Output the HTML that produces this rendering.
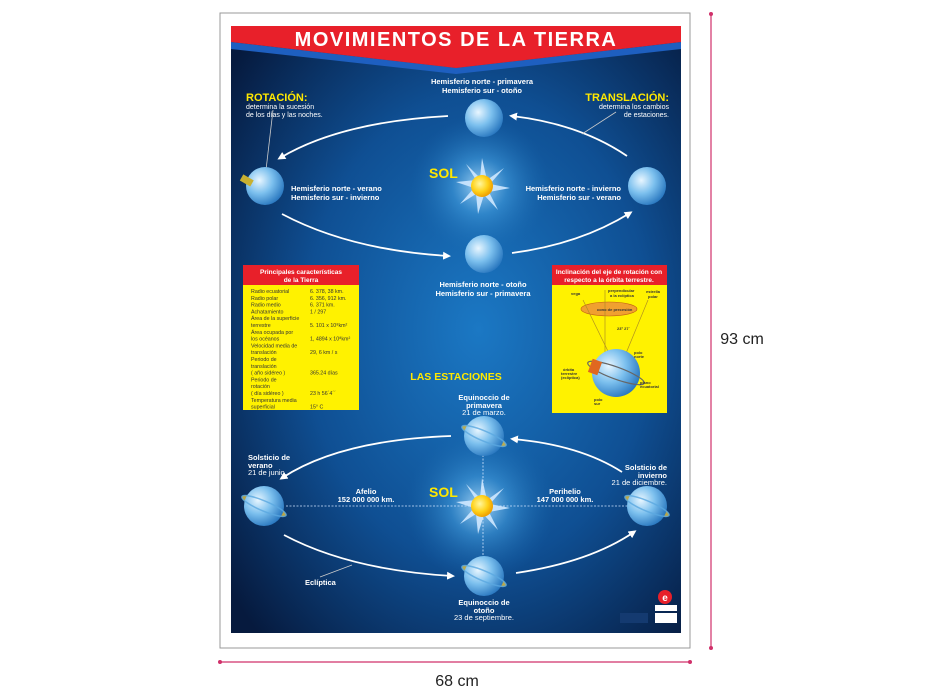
<!DOCTYPE html>
<html><head><meta charset="utf-8"><style>
html,body{margin:0;padding:0;background:#fff;}
svg{display:block;font-family:"Liberation Sans",Arial,sans-serif;}
</style></head><body>
<svg width="933" height="700" viewBox="0 0 933 700" xmlns="http://www.w3.org/2000/svg">
<defs>
<radialGradient id="bg" cx="0.55" cy="0.5" r="0.7">
<stop offset="0" stop-color="#1b78c4"/><stop offset="0.55" stop-color="#0f4f93"/><stop offset="1" stop-color="#061a3e"/>
</radialGradient>
<radialGradient id="glow" cx="0.5" cy="0.5" r="0.5">
<stop offset="0" stop-color="#bfe6ff" stop-opacity="0.9"/><stop offset="0.4" stop-color="#4aa8e8" stop-opacity="0.5"/><stop offset="1" stop-color="#1a6ab0" stop-opacity="0"/>
</radialGradient>
<radialGradient id="globe" cx="0.35" cy="0.35" r="0.7">
<stop offset="0" stop-color="#e8f6ff"/><stop offset="0.5" stop-color="#7cc0ee"/><stop offset="1" stop-color="#2a78c0"/>
</radialGradient>
<radialGradient id="sun" cx="0.4" cy="0.4" r="0.6">
<stop offset="0" stop-color="#fff7a0"/><stop offset="0.6" stop-color="#ffd21a"/><stop offset="1" stop-color="#f0a000"/>
</radialGradient>
<marker id="ar" markerWidth="8" markerHeight="8" refX="5" refY="4" orient="auto" markerUnits="userSpaceOnUse"><path d="M0,0 L8,4 L0,8 z" fill="#fff"/></marker>
<g id="star"><polygon points="0,-28 5,-6 22,-18 8,-2 28,2 7,6 16,24 2,9 -4,28 -6,8 -22,18 -8,2 -26,-4 -6,-6 -16,-22 -2,-8" fill="#cfe8ff" opacity="0.9"/><circle r="11" fill="url(#sun)"/></g>
<g id="tg"><ellipse rx="24" ry="6" transform="rotate(23)" fill="#d8b840" opacity="0.85"/><circle r="20" fill="url(#globe)"/><ellipse rx="24" ry="5" transform="rotate(23)" fill="none" stroke="#5aa8e0" stroke-width="1.5" opacity="0.8"/></g>
</defs>
<rect x="220" y="13" width="470" height="635" fill="#fff" stroke="#999" stroke-width="1"/>
<rect x="231" y="26" width="450" height="607" fill="url(#bg)"/>
<circle cx="480" cy="186" r="70" fill="url(#glow)"/>
<circle cx="480" cy="506" r="75" fill="url(#glow)"/>
<polygon points="231,42 456,68 681,42 681,49 456,74 231,49" fill="#1e5fc0"/>
<polygon points="231,26 681,26 681,42 456,68 231,42" fill="#e8202a"/>
<text x="456" y="46" text-anchor="middle" font-size="20" font-weight="bold" fill="#fff" letter-spacing="1.5">MOVIMIENTOS DE LA TIERRA</text>
<g fill="none" stroke="#fff" stroke-width="1.8">
<path d="M448,116 Q340,122 280,158" marker-end="url(#ar)"/>
<path d="M627,156 Q580,124 512,116" marker-end="url(#ar)"/>
<path d="M282,214 Q350,250 448,256" marker-end="url(#ar)"/>
<path d="M512,253 Q580,244 630,213" marker-end="url(#ar)"/>
</g>
<line x1="273" y1="110" x2="266" y2="170" stroke="#ccc" stroke-width="0.8"/>
<line x1="616" y1="112" x2="582" y2="134" stroke="#ccc" stroke-width="0.8"/>
<circle cx="484" cy="118" r="19" fill="url(#globe)"/>
<circle cx="265" cy="186" r="19" fill="url(#globe)"/>
<rect x="241" y="177" width="12" height="7" fill="#c8b030" transform="rotate(30 247 180)"/>
<circle cx="647" cy="186" r="19" fill="url(#globe)"/>
<circle cx="484" cy="254" r="19" fill="url(#globe)"/>
<use href="#star" x="482" y="186"/>
<g font-weight="bold" fill="#fff" font-size="7.5">
<text x="482" y="84" text-anchor="middle">Hemisferio norte - primavera</text>
<text x="482" y="93" text-anchor="middle">Hemisferio sur - otoño</text>
<text x="291" y="191">Hemisferio norte - verano</text>
<text x="291" y="200">Hemisferio sur - invierno</text>
<text x="621" y="191" text-anchor="end">Hemisferio norte - invierno</text>
<text x="621" y="200" text-anchor="end">Hemisferio sur - verano</text>
<text x="483" y="287" text-anchor="middle">Hemisferio norte - otoño</text>
<text x="483" y="296" text-anchor="middle">Hemisferio sur - primavera</text>
</g>
<text x="429" y="178" font-size="14" font-weight="bold" fill="#ffe800">SOL</text>
<text x="246" y="101" font-size="11" font-weight="bold" fill="#ffe800">ROTACIÓN:</text>
<text x="246" y="109" font-size="7" fill="#fff">determina la sucesión</text>
<text x="246" y="117" font-size="7" fill="#fff">de los días y las noches.</text>
<text x="669" y="101" text-anchor="end" font-size="11" font-weight="bold" fill="#ffe800">TRANSLACIÓN:</text>
<text x="669" y="109" text-anchor="end" font-size="7" fill="#fff">determina los cambios</text>
<text x="669" y="117" text-anchor="end" font-size="7" fill="#fff">de estaciones.</text>
<rect x="243" y="265" width="116" height="145" fill="#fff200"/>
<rect x="243" y="265" width="116" height="20" fill="#e8202a"/>
<text x="301" y="274" text-anchor="middle" font-size="6.5" font-weight="bold" fill="#fff">Principales características</text>
<text x="301" y="282" text-anchor="middle" font-size="6.5" font-weight="bold" fill="#fff">de la Tierra</text>
<g font-size="5.3" fill="#333">
<text x="251" y="293">Radio ecuatorial</text><text x="310" y="293">6. 378, 38 km.</text>
<text x="251" y="299.8">Radio polar</text><text x="310" y="299.8">6. 356, 912 km.</text>
<text x="251" y="306.6">Radio medio</text><text x="310" y="306.6">6. 371 km.</text>
<text x="251" y="313.4">Achatamiento</text><text x="310" y="313.4">1 / 297</text>
<text x="251" y="320.2">Área de la superficie</text>
<text x="251" y="327">terrestre</text><text x="310" y="327">5. 101 x 10⁸km²</text>
<text x="251" y="333.8">Área ocupada por</text>
<text x="251" y="340.6">los océanos</text><text x="310" y="340.6">1, 4894 x 10⁸km²</text>
<text x="251" y="347.4">Velocidad media de</text>
<text x="251" y="354.2">translación</text><text x="310" y="354.2">29, 6 km / s</text>
<text x="251" y="361">Periodo de</text>
<text x="251" y="367.8">translación</text>
<text x="251" y="374.6">( año sidéreo )</text><text x="310" y="374.6">365.24 días</text>
<text x="251" y="381.4">Periodo de</text>
<text x="251" y="388.2">rotación</text>
<text x="251" y="395">( día sidéreo )</text><text x="310" y="395">23 h 56´4´´</text>
<text x="251" y="401.8">Temperatura media</text>
<text x="251" y="408.4">superficial</text><text x="310" y="408.4">15° C</text>
</g>
<rect x="552" y="265" width="115" height="148" fill="#fff200"/>
<rect x="552" y="265" width="115" height="20" fill="#e8202a"/>
<text x="609" y="274" text-anchor="middle" font-size="6.5" font-weight="bold" fill="#fff">Inclinación del eje de rotación con</text>
<text x="609" y="282" text-anchor="middle" font-size="6.5" font-weight="bold" fill="#fff">respecto a la órbita terrestre.</text>
<ellipse cx="609" cy="309" rx="28" ry="7" fill="#f0a030" stroke="#c06010" stroke-width="0.6"/>
<line x1="605" y1="290" x2="605" y2="375" stroke="#b09020" stroke-width="0.7"/>
<line x1="583" y1="300" x2="622" y2="380" stroke="#b09020" stroke-width="0.7"/>
<line x1="648" y1="300" x2="615" y2="380" stroke="#b09020" stroke-width="0.7"/>
<circle cx="616" cy="373" r="24" fill="url(#globe)"/>
<ellipse cx="616" cy="373" rx="30" ry="6" transform="rotate(20 616 373)" fill="none" stroke="#666" stroke-width="1.2"/>
<rect x="590" y="360" width="10" height="14" fill="#e06820" transform="rotate(20 595 367)"/>
<g font-size="4" fill="#333" font-weight="bold">
<text x="571" y="295">vega</text><text x="608" y="292">perpendicular</text><text x="610" y="297">a la eclíptica</text>
<text x="646" y="293">estrella</text><text x="648" y="298">polar</text>
<text x="597" y="311">cono de precesión</text><text x="617" y="330">23° 27´</text>
<text x="634" y="354">polo</text><text x="634" y="358">norte</text>
<text x="563" y="371">órbita</text><text x="561" y="375">terrestre</text><text x="561" y="379">(eclíptica)</text>
<text x="640" y="384">plano</text><text x="640" y="388">ecuatorial</text>
<text x="594" y="401">polo</text><text x="594" y="405">sur</text>
</g>
<text x="456" y="380" text-anchor="middle" font-size="10.5" font-weight="bold" fill="#ffe800">LAS ESTACIONES</text>
<line x1="286" y1="506" x2="628" y2="506" stroke="#cfe4ff" stroke-width="0.8" stroke-dasharray="2,1.5"/>
<line x1="483" y1="455" x2="483" y2="557" stroke="#cfe4ff" stroke-width="0.8" stroke-dasharray="2,1.5"/>
<g fill="none" stroke="#fff" stroke-width="1.8">
<path d="M451,436 Q340,440 282,478" marker-end="url(#ar)"/>
<path d="M622,472 Q580,445 513,439" marker-end="url(#ar)"/>
<path d="M284,535 Q350,570 452,576" marker-end="url(#ar)"/>
<path d="M516,573 Q590,562 634,532" marker-end="url(#ar)"/>
</g>
<line x1="352" y1="565" x2="320" y2="577" stroke="#ccc" stroke-width="0.8"/>
<use href="#tg" x="484" y="436"/>
<use href="#tg" x="264" y="506"/>
<use href="#tg" x="647" y="506"/>
<use href="#tg" x="484" y="576"/>
<use href="#star" x="482" y="506"/>
<text x="429" y="497" font-size="14" font-weight="bold" fill="#ffe800">SOL</text>
<g font-size="7.5" fill="#fff">
<text x="484" y="400" text-anchor="middle" font-weight="bold">Equinoccio de</text>
<text x="484" y="408" text-anchor="middle" font-weight="bold">primavera</text>
<text x="484" y="415" text-anchor="middle">21 de marzo.</text>
<text x="248" y="460" font-weight="bold">Solsticio de</text>
<text x="248" y="468" font-weight="bold">verano</text>
<text x="248" y="475">21 de junio.</text>
<text x="667" y="470" text-anchor="end" font-weight="bold">Solsticio de</text>
<text x="667" y="478" text-anchor="end" font-weight="bold">invierno</text>
<text x="667" y="485" text-anchor="end">21 de diciembre.</text>
<text x="366" y="494" text-anchor="middle" font-weight="bold">Afelio</text>
<text x="366" y="502" text-anchor="middle" font-weight="bold">152 000 000 km.</text>
<text x="565" y="494" text-anchor="middle" font-weight="bold">Perihelio</text>
<text x="565" y="502" text-anchor="middle" font-weight="bold">147 000 000 km.</text>
<text x="305" y="585" font-weight="bold">Eclíptica</text>
<text x="484" y="605" text-anchor="middle" font-weight="bold">Equinoccio de</text>
<text x="484" y="613" text-anchor="middle" font-weight="bold">otoño</text>
<text x="484" y="620" text-anchor="middle">23 de septiembre.</text>
</g>
<circle cx="665" cy="597" r="7" fill="#e8202a"/>
<text x="665" y="601" text-anchor="middle" font-size="10" font-weight="bold" fill="#fff">e</text>
<rect x="655" y="605" width="22" height="6" fill="#fff"/>
<rect x="655" y="613" width="22" height="10" fill="#fff"/>
<rect x="620" y="613" width="28" height="10" fill="#143a70"/>
<line x1="711" y1="14" x2="711" y2="648" stroke="#d0306a" stroke-width="1.2"/>
<circle cx="711" cy="14" r="2" fill="#d0306a"/><circle cx="711" cy="648" r="2" fill="#d0306a"/>
<line x1="220" y1="662" x2="690" y2="662" stroke="#d0306a" stroke-width="1.2"/>
<circle cx="220" cy="662" r="2" fill="#d0306a"/><circle cx="690" cy="662" r="2" fill="#d0306a"/>
<text x="742" y="344" text-anchor="middle" font-size="16" fill="#222">93 cm</text>
<text x="457" y="686" text-anchor="middle" font-size="16" fill="#222">68 cm</text>
</svg>
</body></html>
